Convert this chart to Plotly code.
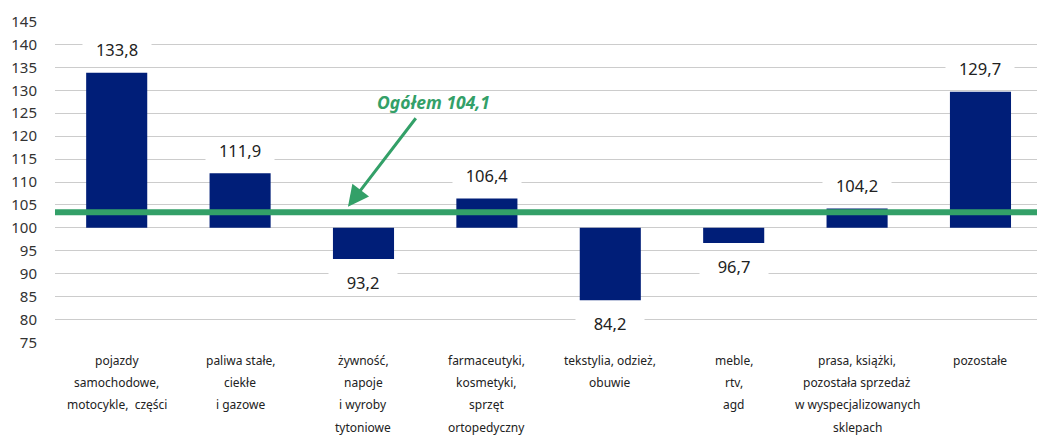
import plotly.graph_objects as go

categories = [
    "pojazdy|samochodowe,|motocykle,\u00a0 części",
    "paliwa stałe,|ciekłe|i gazowe",
    "żywność,|napoje|i wyroby|tytoniowe",
    "farmaceutyki,|kosmetyki,|sprzęt|ortopedyczny",
    "tekstylia, odzież,|obuwie",
    "meble,|rtv,|agd",
    "prasa, książki,|pozostała sprzedaż|w wyspecjalizowanych|sklepach",
    "pozostałe",
]
values = [133.8, 111.9, 93.2, 106.4, 84.2, 96.7, 104.2, 129.7]
base_value = 100
total_line = 103.4
total_label = "Ogółem 104,1"
y_ticks = list(range(75, 150, 5))

BAR = "#001E78"
GREEN = "#33A068"
TXT = "#222222"
FONT = "Noto Sans"

x = list(range(len(categories)))

fig = go.Figure()
fig.add_trace(go.Bar(
    x=x,
    y=[v - base_value for v in values],
    base=base_value,
    width=0.495,
    marker=dict(color=BAR, line=dict(width=0)),
    hoverinfo="skip",
))

anns = []
for i, v in enumerate(values):
    anns.append(dict(
        x=i, y=v, xref="x", yref="y",
        text=f"{v:.1f}".replace(".", ","),
        showarrow=False,
        yshift=23 if v >= base_value else -23,
        font=dict(family=FONT, size=16.5, color=TXT),
        bgcolor="white", width=66, borderpad=1,
    ))
    for k, line in enumerate(categories[i].split("|")):
        anns.append(dict(
            x=i, y=0, xref="x", yref="paper",
            text=line, showarrow=False,
            yanchor="middle",
            yshift=-17.5 - 22.2 * k,
            font=dict(family=FONT, size=12, color=TXT),
        ))

# arrow
anns.append(dict(
    x=1.874, y=104.6, xref="x", yref="y",
    ax=69, ay=-90, axref="pixel", ayref="pixel",
    text="", showarrow=True,
    arrowhead=2, arrowsize=1.4, arrowwidth=3, arrowcolor=GREEN, standoff=0,
))
anns.append(dict(
    x=2.57, y=127.4, xref="x", yref="y",
    text=f"<b><i>{total_label}</i></b>", showarrow=False,
    font=dict(family=FONT, size=17.5, color=GREEN),
))

fig.update_layout(
    width=1037, height=435,
    margin=dict(l=55, r=0, t=21, b=92),
    plot_bgcolor="white", paper_bgcolor="white",
    showlegend=False,
    xaxis=dict(range=[-0.5, 7.458], showticklabels=False, showgrid=False,
               zeroline=False, showline=False, ticks=""),
    yaxis=dict(range=[74.9, 145.1], tickvals=y_ticks, ticktext=[str(t) for t in y_ticks],
               showgrid=True, gridcolor="#cccccc", gridwidth=1.3,
               zeroline=False, showline=False, ticks="",
               ticklabelstandoff=17,
               tickfont=dict(family=FONT, size=15, color="#333333")),
    annotations=anns,
    shapes=[dict(type="line", xref="paper", yref="y", x0=0, x1=1,
                 y0=total_line, y1=total_line,
                 line=dict(color=GREEN, width=6), layer="above")],
)

fig.write_html(
    "out.html",
    config={"displayModeBar": False},
    post_script="document.body.style.margin='0';document.body.style.overflow='hidden';",
)
